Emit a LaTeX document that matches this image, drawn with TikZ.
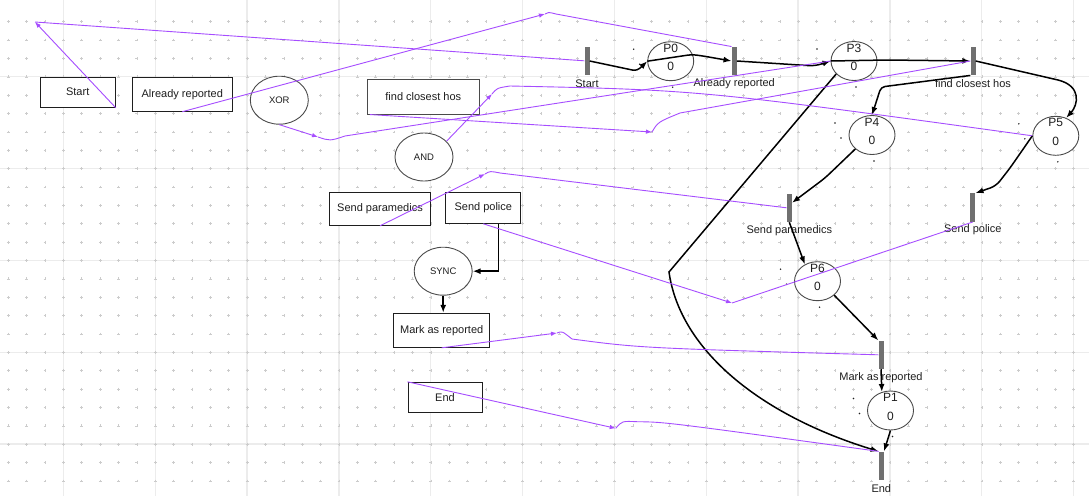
\documentclass[tikz,border=0pt]{standalone}
\usepackage{fontspec}
\setmainfont{Liberation Sans}
\setsansfont{Liberation Sans}
\usetikzlibrary{arrows.meta,shapes.geometric}
\definecolor{ink}{HTML}{1E1E1E}
\definecolor{gridline}{HTML}{ECECEC}
\definecolor{griddot}{HTML}{CCCCCC}
\definecolor{barfill}{HTML}{707070}
\definecolor{rim}{HTML}{4A4A4A}
\definecolor{link}{HTML}{A64DFF}
\tikzset{
  task/.style={draw=ink,fill=white,line width=1pt,inner sep=0pt,text=ink,font=\fontsize{11}{13}\selectfont},
  gate/.style={ellipse,draw=rim,fill=white,line width=0.9pt,inner sep=0pt,minimum width=58pt,minimum height=48pt,text=ink,font=\fontsize{9.5}{11}\selectfont},
  trans/.style={fill=barfill,inner sep=0pt,minimum width=5pt,minimum height=28.5pt},
  place/.style={ellipse,draw=rim,fill=white,line width=0.9pt,inner sep=0pt,minimum width=46pt,minimum height=39pt},
  tname/.style={inner sep=0pt,text=ink,font=\fontsize{11}{13}\selectfont},
  pname/.style={inner sep=0pt,text=ink,font=\fontsize{12}{14}\selectfont},
  flow/.style={-{Latex[length=8pt,width=6pt]},draw=black,line width=1.5pt},
  maparrow/.style={-{Latex[length=6pt,width=4.5pt]},draw=link,line width=0.9pt},
  maptail/.style={draw=link,line width=0.9pt},
}

\begin{document}
\begin{tikzpicture}[x=1pt,y=-1pt,font=\sffamily]
  \useasboundingbox (0,0) rectangle (1089,496);
  \fill[white] (0,0) rectangle (1089,496);

  % editor grid
  \foreach \k in {0,...,11}
    \draw[gridline,line width=1.3pt] (63.3+91.85*\k,0) -- (63.3+91.85*\k,496);
  \foreach \k in {0,...,4}
    \draw[gridline,line width=1.3pt] (0,76.7+91.85*\k) -- (1089,76.7+91.85*\k);
  \foreach \i in {0,...,58}
    \foreach \j in {0,...,25}
      \draw[griddot,line width=0.6pt] (6.9+18.37*\i,21.7+18.37*\j) -- ++(2.8,0)
        (8.3+18.37*\i,20.3+18.37*\j) -- ++(0,2.8);

  % workflow patterns
  \node[task,minimum width=75pt,minimum height=30pt] (wStart) at (77.7,92.2) {Start};
  \node[task,minimum width=100pt,minimum height=34pt] (wAR) at (182.3,94.2) {Already reported};
  \node[gate] (wXOR) at (279.3,100.2) {XOR};
  \node[task,draw=rim,minimum width=112pt,minimum height=34.7pt] (wFC) at (423.3,96.7) {find closest hos};
  \node[gate] (wAND) at (424,157) {AND};
  \node[task,minimum width=101.4pt,minimum height=32.6pt] (wSPa) at (380,209) {Send paramedics};
  \node[task,minimum width=74.7pt,minimum height=30.6pt] (wSPo) at (483.3,208) {Send police};
  \node[gate] (wSYNC) at (443.2,271.2) {SYNC};
  \node[task,minimum width=96pt,minimum height=34pt] (wMR) at (441.7,330.3) {Mark as reported};
  \node[task,minimum width=74pt,minimum height=30pt] (wEnd) at (445,397.3) {End};

  \draw[flow] ([xshift=15pt]wSPo.south) |- (wSYNC.east);
  \draw[flow] (wSYNC.south) -- (wSYNC.south |- wMR.north);

  % Petri net: transitions and places
  \foreach \n/\x/\y/\t in {tS/587/61/Start,tAR/734.2/61/Already reported,
      tFC/973/61/find closest hos,tSPa/789.3/207.8/Send paramedics,
      tSPo/972.8/207.5/Send police,tMR/881/354.8/Mark as reported,tE/881.3/465.8/End} {
    \node[trans] (\n) at (\x,\y) {};
    \node[tname] (\n-l) at (\x,\y+22.5) {\t};
  }
  \foreach \n/\x/\y/\t in {pP0/670.7/61.2/P0,pP3/854/61/P3,pP4/872/135/P4,
      pP5/1055.8/135.8/P5,pP6/817.5/281.2/P6,pP1/890.5/410.5/P1} {
    \node[place] (\n) at (\x,\y) {};
    \node[pname] (\n-n) at (\x,\y-13) {\t};
    \node[pname] (\n-t) at (\x,\y+5.5) {0};
    \fill[ink] (\x-37,\y-12) circle (0.8) (\x-31,\y+3) circle (0.8) (\x+2,\y+26) circle (0.8);
  }

  \draw[flow,rounded corners=4pt] (tS.east) -- (637,71) -- (pP0.west);
  \draw[flow,rounded corners=4pt] (pP0.west) -- (692,54.5) -- (703,56) -- (tAR.west);
  \draw[flow,rounded corners=6pt] (tAR.east) -- (815,66) -- (pP3.west);
  \draw[flow,rounded corners=4pt] (pP3.west) -- (887,60) -- (tFC.west);
  \draw[flow,rounded corners=4pt] (tFC.south west) -- (881,87) -- (pP4.north);
  \draw[flow] (tFC.east) -- (1058,80) .. controls (1082,86) and (1078,105) .. (pP5.60);
  \draw[flow,rounded corners=6pt] (pP5.west) -- (1010,168) -- (996,186) -- (tSPo.north east);
  \draw[flow,rounded corners=6pt] (pP4.220) -- (825,178) -- ([yshift=5pt]tSPa.east);
  \draw[flow] (tSPa.south) -- (pP6.127);
  \draw[flow] (pP6.320) -- (tMR.north west);
  \draw[flow] (tMR.south) -- (pP1.115);
  \draw[flow] (pP1.south) -- (tE.north east);
  \draw[flow] (pP3.216) -- (669,272) .. controls (680,350) and (760,415) .. (tE.north west);

  % mapping links, arrow drawn half way
  \coordinate (mStart) at (35,22);
  \coordinate (mAR) at (545,14);
  \coordinate (mXOR) at (318,137);
  \coordinate (mFC) at (652,132);
  \coordinate (mAND) at (492,94);
  \coordinate (mSPa) at (485,174);
  \coordinate (mSPo) at (732,303);
  \coordinate (mMR) at (557,333);
  \coordinate (mEnd) at (615.7,428.3);

  \draw[maparrow] (wStart.south east) -- (mStart);
  \draw[maptail] (mStart) -- (tS);
  \draw[maparrow] (wAR.south) -- (mAR);
  \draw[maptail] (mAR) .. controls (548,12) .. (556,14) -- (tAR.north west);
  \draw[maparrow] (wXOR.south) -- (mXOR);
  \draw[maptail] (mXOR) .. controls (330,141) .. (345,136) -- (pP3.west);
  \draw[maparrow] ([xshift=3pt]wFC.south west) -- (mFC);
  \draw[maptail] (mFC) .. controls (658,122) .. (680,113) -- (tFC.west);
  \draw[maparrow] (wAND.35) -- (mAND);
  \draw[maptail] (mAND) .. controls (497,88) .. (510,86) .. controls (700,90) .. (pP5.west);
  \draw[maparrow] (wSPa.south) -- (mSPa);
  \draw[maptail] (mSPa) .. controls (490,171) .. (500,173) -- (tSPa.west);
  \draw[maparrow] (wSPo.south) -- (mSPo);
  \draw[maptail] (mSPo) -- (tSPo.south);
  \draw[maparrow] (wMR.south) -- (mMR);
  \draw[maptail] (mMR) .. controls (562,331) .. (572,339) .. controls (640,348) .. (tMR.west);
  \draw[maparrow] (wEnd.north west) -- (mEnd);
  \draw[maptail] (mEnd) .. controls (622,421) .. (637,421.7) .. controls (665,422) .. (tE.north west);
\end{tikzpicture}
\end{document}
